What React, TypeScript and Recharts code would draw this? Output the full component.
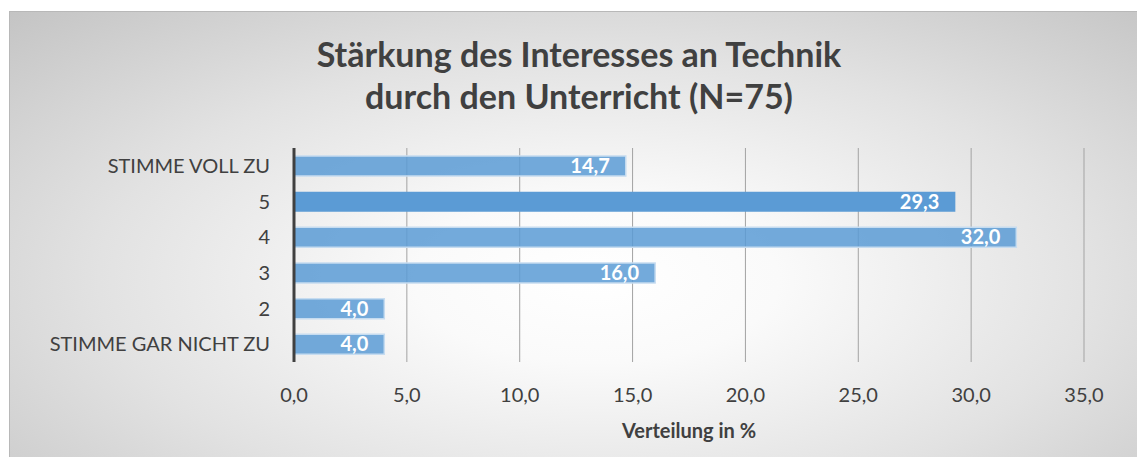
import { BarChart, Bar, XAxis, YAxis, CartesianGrid, Cell, LabelList } from 'recharts'

const categories = ['STIMME VOLL ZU', '5', '4', '3', '2', 'STIMME GAR NICHT ZU']
const shares = [14.7, 29.3, 32.0, 16.0, 4.0, 4.0]
const xTicks = [0, 5, 10, 15, 20, 25, 30, 35]
const highlighted = '5'

const chartData = categories.map((name, i) => ({ name, value: shares[i] }))

const fmt = (v: number) => v.toFixed(1).replace('.', ',')

const FONT = 'Lato, "Open Sans", sans-serif'

export default function App() {
  return (
    <div
      style={{
        position: 'fixed',
        left: 0,
        top: 0,
        width: 1137,
        height: 457,
        background: '#ffffff',
        fontFamily: FONT,
        overflow: 'hidden',
      }}
    >
      {/* chart area with the grey radial shading */}
      <div
        style={{
          position: 'absolute',
          left: 9,
          top: 11,
          width: 1128,
          height: 446,
          borderLeft: '1px solid #b8b8b8',
          borderTop: '1px solid #b8b8b8',
          background:
            'radial-gradient(ellipse farthest-corner at 52% 60%, #ffffff 0%, #fafafa 22%, #e2e2e2 60%, #c4c4c4 100%)',
        }}
      />
      <div
        style={{
          position: 'absolute',
          left: 229,
          width: 700,
          top: 33,
          textAlign: 'center',
          fontSize: 34,
          lineHeight: '42px',
          fontWeight: 700,
          color: '#404040',
        }}
      >
        Stärkung des Interesses an Technik
        <br />
        durch den Unterricht (N=75)
      </div>
      <div style={{ position: 'absolute', left: 0, top: 0 }}>
        <BarChart
          width={1137}
          height={457}
          data={chartData}
          layout="vertical"
          margin={{ top: 148, right: 53, bottom: 0, left: 0 }}
        >
          <CartesianGrid horizontal={false} stroke="#a3a3a3" strokeWidth={1} />
          <XAxis
            type="number"
            domain={[0, 35]}
            ticks={xTicks}
            tickFormatter={fmt}
            axisLine={false}
            tickLine={false}
            tickSize={0}
            tickMargin={26}
            tick={{ fill: '#404040', fontSize: 20, fontFamily: FONT }}
            height={95}
            interval={0}
          />
          <YAxis
            type="category"
            dataKey="name"
            width={294}
            axisLine={{ stroke: '#404040', strokeWidth: 3 }}
            tickLine={false}
            tickSize={0}
            tickMargin={24}
            tick={{ fill: '#404040', fontSize: 20, fontFamily: FONT }}
            interval={0}
          />
          <Bar dataKey="value" barSize={20} isAnimationActive={false}>
            {chartData.map((entry) => (
              <Cell
                key={entry.name}
                fill="#5b9bd5"
                fillOpacity={entry.name === highlighted ? 1 : 0.85}
                stroke={entry.name === highlighted ? 'none' : '#c6dcf0'}
                strokeWidth={1.5}
              />
            ))}
            <LabelList
              dataKey="value"
              position="insideRight"
              offset={16}
              formatter={(v: number) => fmt(v)}
              fill="#ffffff"
              fontSize={20}
              fontWeight={700}
              fontFamily={FONT}
            />
          </Bar>
        </BarChart>
      </div>
      <div
        style={{
          position: 'absolute',
          left: 489,
          width: 400,
          top: 418,
          textAlign: 'center',
          fontSize: 20,
          fontWeight: 700,
          color: '#404040',
          lineHeight: '24px',
        }}
      >
        Verteilung in %
      </div>
    </div>
  )
}
